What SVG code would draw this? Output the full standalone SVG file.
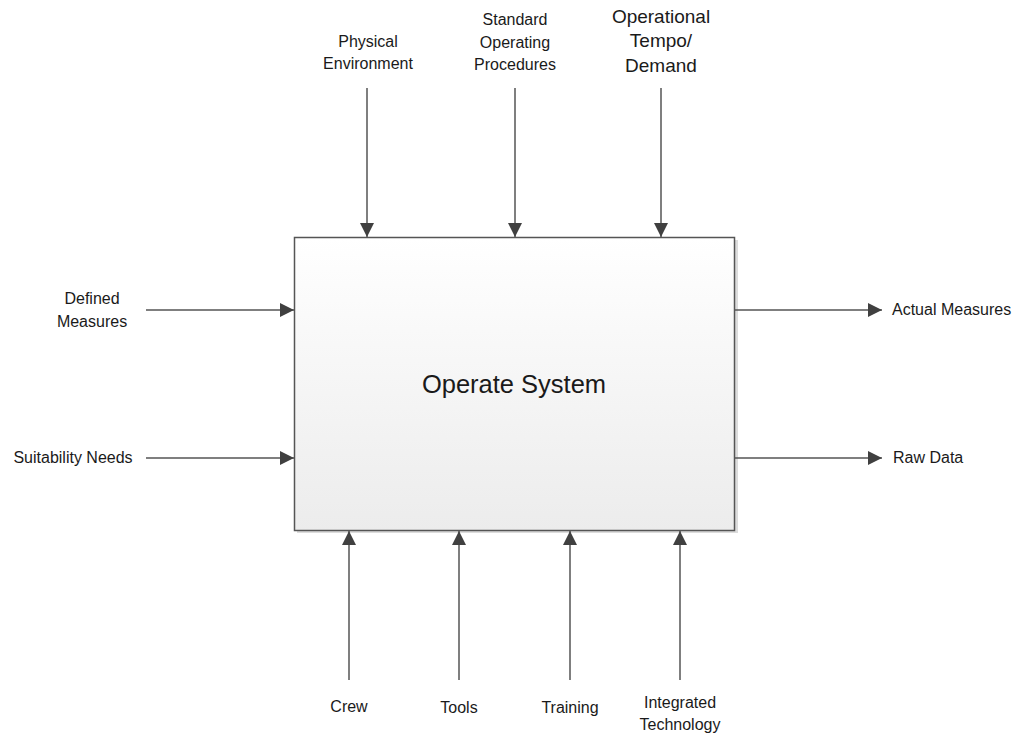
<svg xmlns="http://www.w3.org/2000/svg" width="1019" height="734" viewBox="0 0 1019 734">
<defs>
<linearGradient id="g" x1="0" y1="0" x2="0" y2="1">
<stop offset="0" stop-color="#ffffff"/>
<stop offset="1" stop-color="#ececec"/>
</linearGradient>
<marker id="ah" viewBox="0 0 10 10" refX="10" refY="5" markerWidth="14" markerHeight="14" markerUnits="userSpaceOnUse" orient="auto">
<path d="M0,0 L10,5 L0,10 Z" fill="#404040"/>
</marker>
<style>
.c{stroke:#555555;stroke-width:1.5;fill:none;marker-end:url(#ah)}
text{font-family:"Liberation Sans",Arial,sans-serif;font-size:16px;fill:#1a1a1a}
.m{text-anchor:middle}
.big{font-size:19px}
</style>
</defs>
<rect width="1019" height="734" fill="#ffffff"/>
<g id="operate-system">
<rect x="297" y="240" width="441" height="293" fill="#dcdcdc"/>
<rect x="294.5" y="237.5" width="440" height="293" fill="url(#g)" stroke="#555555" stroke-width="1.5"/>
<text x="514" y="393" class="m" style="font-size:25.5px">Operate System</text>
</g>
<g id="connectors">
<line class="c" x1="367" y1="88" x2="367" y2="237"/>
<line class="c" x1="515" y1="88" x2="515" y2="237"/>
<line class="c" x1="661" y1="88" x2="661" y2="237"/>
<line class="c" x1="146" y1="310" x2="294" y2="310"/>
<line class="c" x1="146" y1="458" x2="294" y2="458"/>
<line class="c" x1="735" y1="310" x2="882" y2="310"/>
<line class="c" x1="735" y1="458" x2="882" y2="458"/>
<line class="c" x1="349" y1="680" x2="349" y2="531"/>
<line class="c" x1="459" y1="680" x2="459" y2="531"/>
<line class="c" x1="570" y1="680" x2="570" y2="531"/>
<line class="c" x1="680" y1="680" x2="680" y2="531"/>
</g>
<g id="physical-environment"><text class="m" x="368" y="47">Physical</text><text class="m" x="368" y="69">Environment</text></g>
<g id="sop"><text class="m" x="515" y="25">Standard</text><text class="m" x="515" y="48">Operating</text><text class="m" x="515" y="70">Procedures</text></g>
<g id="tempo"><text class="m big" x="661" y="23">Operational</text><text class="m big" x="661" y="47">Tempo/</text><text class="m big" x="661" y="72">Demand</text></g>
<g id="defined-measures"><text class="m" x="92" y="304">Defined</text><text class="m" x="92" y="327">Measures</text></g>
<g id="suitability-needs"><text class="m" x="73" y="463">Suitability Needs</text></g>
<g id="actual-measures"><text x="892" y="315">Actual Measures</text></g>
<g id="raw-data"><text x="893" y="463">Raw Data</text></g>
<g id="crew"><text class="m" x="349" y="712">Crew</text></g>
<g id="tools"><text class="m" x="459" y="713">Tools</text></g>
<g id="training"><text class="m" x="570" y="713">Training</text></g>
<g id="integrated-technology"><text class="m" x="680" y="708">Integrated</text><text class="m" x="680" y="730">Technology</text></g>
</svg>
